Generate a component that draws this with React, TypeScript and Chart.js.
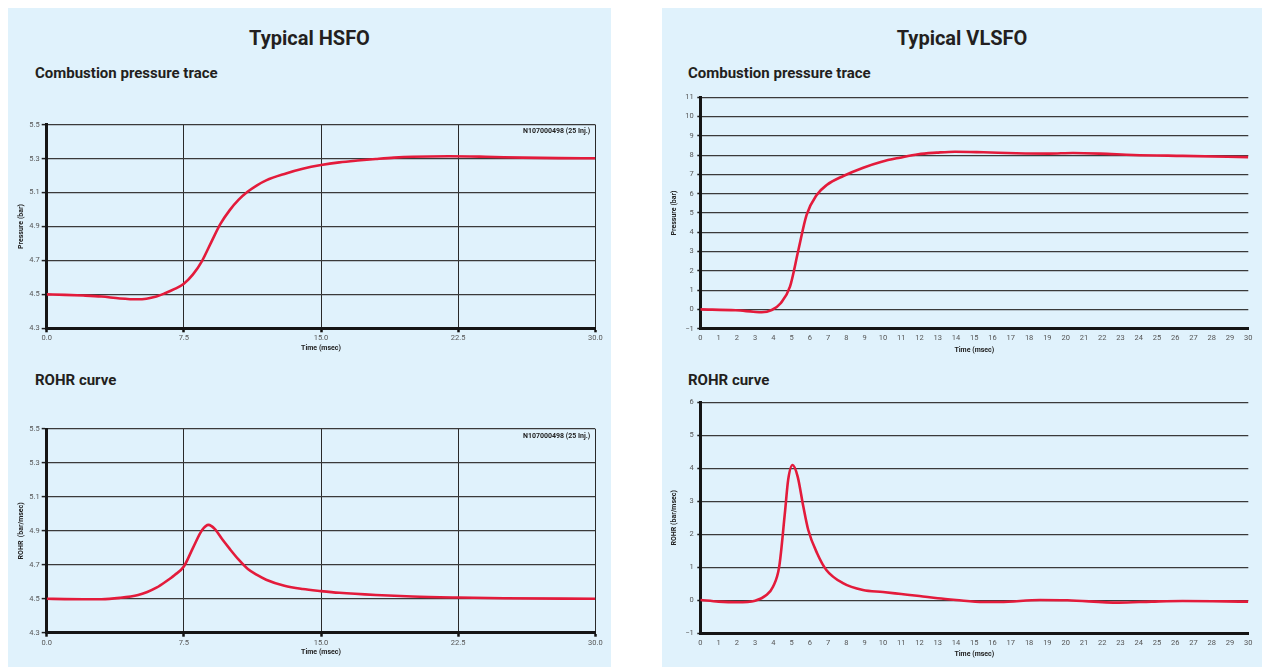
import React, { useEffect, useRef } from 'react';
import { Chart, registerables } from 'chart.js';

Chart.register(...registerables);

// ---------------- DATA ----------------
// Typical HSFO – combustion pressure trace (bar) vs time (msec)
const hsfoPressTime = [0, 1, 2, 3, 4, 5, 6, 6.5, 7, 7.5, 8, 8.5, 9, 9.5, 10, 10.5, 11, 11.5, 12, 13, 14, 15, 16, 17, 18, 19, 20, 22, 24, 26, 28, 30];
const hsfoPressVals = [4.5, 4.497, 4.493, 4.487, 4.476, 4.471, 4.488, 4.508, 4.532, 4.563, 4.618, 4.698, 4.808, 4.915, 4.995, 5.058, 5.106, 5.143, 5.172, 5.21, 5.24, 5.262, 5.278, 5.289, 5.298, 5.306, 5.311, 5.314, 5.311, 5.306, 5.303, 5.302];

// Typical HSFO – ROHR curve (bar/msec)
const hsfoRohrTime = [0, 1, 2, 3, 4, 5, 5.5, 6, 6.5, 7, 7.5, 8, 8.5, 8.85, 9.2, 9.6, 10, 10.5, 11, 11.5, 12, 13, 14, 15, 16, 18, 20, 22.5, 25, 30];
const hsfoRohrVals = [4.5, 4.498, 4.497, 4.497, 4.505, 4.522, 4.54, 4.565, 4.6, 4.64, 4.69, 4.8, 4.905, 4.935, 4.91, 4.85, 4.795, 4.73, 4.675, 4.64, 4.612, 4.576, 4.557, 4.545, 4.535, 4.522, 4.513, 4.507, 4.503, 4.5];

// Typical VLSFO – combustion pressure trace (bar)
const vlsfoPressTime = [0, 1.94, 2.9, 3.36, 3.91, 4.4, 4.91, 5.37, 5.82, 6.37, 6.92, 7.83, 8.92, 9.93, 10.93, 11.93, 12.94, 13.94, 15.5, 17.3, 19.1, 20.4, 21.9, 23.7, 26.4, 30];
const vlsfoPressVals = [0, -0.045, -0.12, -0.15, -0.03, 0.32, 1.18, 3.08, 4.9, 5.93, 6.45, 6.92, 7.35, 7.66, 7.87, 8.05, 8.13, 8.18, 8.15, 8.1, 8.08, 8.11, 8.08, 8.01, 7.96, 7.9];

// Typical VLSFO – ROHR curve (bar/msec)
const vlsfoRohrTime = [0, 1, 2, 3, 3.62, 3.98, 4.32, 4.63, 4.81, 5.05, 5.33, 5.64, 5.91, 6.4, 6.9, 7.81, 8.9, 10, 11, 12, 13, 14, 15.5, 16.4, 18.6, 20.1, 22.9, 24.7, 26.4, 30];
const vlsfoRohrVals = [0.01, -0.04, -0.06, -0.01, 0.16, 0.41, 1.02, 2.64, 3.65, 4.1, 3.75, 2.84, 2.13, 1.42, 0.92, 0.52, 0.31, 0.25, 0.19, 0.13, 0.06, 0.01, -0.05, -0.05, 0.01, 0, -0.07, -0.04, -0.02, -0.04];

// Tick values
const hsfoXTicks = [0, 7.5, 15, 22.5, 30];
const hsfoYTicks = [4.3, 4.5, 4.7, 4.9, 5.1, 5.3, 5.5];
const vlsfoXTicks = [0, 1, 2, 3, 4, 5, 6, 7, 8, 9, 10, 11, 12, 13, 14, 15, 16, 17, 18, 19, 20, 21, 22, 23, 24, 25, 26, 27, 28, 29, 30];
const vlsfoPressYTicks = [-1, 0, 1, 2, 3, 4, 5, 6, 7, 8, 9, 10, 11];
const vlsfoRohrYTicks = [-1, 0, 1, 2, 3, 4, 5, 6];

// Text
const TITLE_LEFT = 'Typical HSFO';
const TITLE_RIGHT = 'Typical VLSFO';
const SUB_PRESSURE = 'Combustion pressure trace';
const SUB_ROHR = 'ROHR curve';
const X_TITLE = 'Time (msec)';
const Y_PRESSURE = 'Pressure (bar)';
const Y_ROHR_LEFT = 'ROHR  (bar/msec)';
const Y_ROHR_RIGHT = 'ROHR (bar/msec)';
const ANNOTATION = 'N107000498 (25 Inj.)';

// ---------------- STYLE ----------------
const RED = '#e31b3b';
const PANEL_BG = '#e0f2fc';
const TEXT_DARK = '#231f20';
const FONT = 'Roboto, "Noto Sans", sans-serif';

type Spec = {
  left: number; top: number; w: number; h: number;
  xs: number[]; ys: number[];
  xTicks: number[]; yTicks: number[];
  xDecimals: number; yDecimals: number;
  yTitle: string;
  yAxisW: number; xAxisH: number; padTop: number; padRight: number;
  xTitlePad: number; yTitlePad: number;
  vGrid: boolean; xTickLen: number; xTickPad: number; yTickLen: number; yTickPad: number;
  annotation?: string;
};

const fmt = (v: number, d: number) => {
  const s = Math.abs(v).toFixed(d);
  return v < 0 ? '\u2212' + s : s;
};

function buildConfig(s: Spec): any {
  const plugins: any[] = [];
  if (s.annotation) {
    const text = s.annotation;
    plugins.push({
      id: 'anno',
      afterDraw(chart: any) {
        const { ctx, chartArea } = chart;
        ctx.save();
        ctx.font = `bold 7px ${FONT}`;
        ctx.fillStyle = '#222';
        ctx.textAlign = 'right';
        ctx.textBaseline = 'middle';
        ctx.fillText(text, chartArea.right - 5, chartArea.top + 7);
        ctx.restore();
      },
    });
  }
  return {
    type: 'line',
    data: {
      datasets: [
        {
          data: s.xs.map((x, i) => ({ x, y: s.ys[i] })),
          borderColor: RED,
          borderWidth: 2.6,
          pointRadius: 0,
          fill: false,
          cubicInterpolationMode: 'monotone',
        },
      ],
    },
    plugins,
    options: {
      animation: false,
      responsive: false,
      maintainAspectRatio: false,
      layout: { padding: { top: s.padTop, right: s.padRight, left: 0, bottom: 0 } },
      plugins: { legend: { display: false }, tooltip: { enabled: false }, title: { display: false } },
      scales: {
        x: {
          type: 'linear',
          min: s.xTicks[0],
          max: s.xTicks[s.xTicks.length - 1],
          afterBuildTicks: (sc: any) => { sc.ticks = s.xTicks.map((v) => ({ value: v })); },
          afterFit: (sc: any) => { sc.height = s.xAxisH; },
          grid: {
            display: s.vGrid,
            color: '#2a2a2a',
            lineWidth: 1,
            drawTicks: true,
            tickLength: s.xTickLen,
            tickColor: '#111',
            tickWidth: 2.5,
          },
          border: { display: true, color: '#151515', width: 3 },
          ticks: {
            autoSkip: false,
            maxRotation: 0,
            padding: s.xTickPad,
            color: '#555',
            font: { family: FONT, size: 7.5 },
            callback: (v: any) => fmt(Number(v), s.xDecimals),
          },
          title: {
            display: true,
            text: X_TITLE,
            color: '#222',
            font: { family: FONT, size: 7, weight: 'bold' },
            padding: { top: 0, bottom: s.xTitlePad },
          },
        },
        y: {
          type: 'linear',
          min: s.yTicks[0],
          max: s.yTicks[s.yTicks.length - 1],
          afterBuildTicks: (sc: any) => { sc.ticks = s.yTicks.map((v) => ({ value: v })); },
          afterFit: (sc: any) => { sc.width = s.yAxisW; },
          grid: {
            display: true,
            color: '#3a3a3a',
            lineWidth: 1.2,
            drawTicks: true,
            tickLength: s.yTickLen,
            tickColor: '#222',
            tickWidth: 1.5,
          },
          border: { display: true, color: '#151515', width: 3 },
          ticks: {
            autoSkip: false,
            padding: s.yTickPad,
            color: '#555',
            font: { family: FONT, size: 7.5 },
            callback: (v: any) => fmt(Number(v), s.yDecimals),
          },
          title: {
            display: true,
            text: s.yTitle,
            color: '#222',
            font: { family: FONT, size: 7, weight: 'bold' },
            padding: { top: s.yTitlePad, bottom: 0 },
          },
        },
      },
    },
  };
}

function LineChart({ spec }: { spec: Spec }) {
  const ref = useRef<HTMLCanvasElement>(null);
  useEffect(() => {
    if (!ref.current) return;
    const chart = new Chart(ref.current, buildConfig(spec));
    return () => chart.destroy();
  }, [spec]);
  return (
    <canvas
      ref={ref}
      width={spec.w}
      height={spec.h}
      style={{ position: 'absolute', left: spec.left, top: spec.top, width: spec.w, height: spec.h }}
    />
  );
}

const specs: Spec[] = [
  {
    left: 12, top: 110, w: 593, h: 246,
    xs: hsfoPressTime, ys: hsfoPressVals, xTicks: hsfoXTicks, yTicks: hsfoYTicks,
    xDecimals: 1, yDecimals: 1, yTitle: Y_PRESSURE,
    yAxisW: 34.7, xAxisH: 27.7, padTop: 14.7, padRight: 9.7,
    xTitlePad: 3.8, yTitlePad: 5.3, vGrid: true,
    xTickLen: 4, xTickPad: 1.3, yTickLen: 5, yTickPad: 2,
    annotation: ANNOTATION,
  },
  {
    left: 12, top: 414, w: 593, h: 246,
    xs: hsfoRohrTime, ys: hsfoRohrVals, xTicks: hsfoXTicks, yTicks: hsfoYTicks,
    xDecimals: 1, yDecimals: 1, yTitle: Y_ROHR_LEFT,
    yAxisW: 34.7, xAxisH: 27.3, padTop: 15, padRight: 9.7,
    xTitlePad: 3.8, yTitlePad: 5.3, vGrid: true,
    xTickLen: 4, xTickPad: 1.6, yTickLen: 5, yTickPad: 2,
    annotation: ANNOTATION,
  },
  {
    left: 664, top: 86, w: 594, h: 270,
    xs: vlsfoPressTime, ys: vlsfoPressVals, xTicks: vlsfoXTicks, yTicks: vlsfoPressYTicks,
    xDecimals: 0, yDecimals: 0, yTitle: Y_PRESSURE,
    yAxisW: 36.3, xAxisH: 27.3, padTop: 11.3, padRight: 9.7,
    xTitlePad: 1.8, yTitlePad: 6.3, vGrid: false,
    xTickLen: 4, xTickPad: 1.2, yTickLen: 3, yTickPad: 3.5,
  },
  {
    left: 664, top: 390, w: 594, h: 270,
    xs: vlsfoRohrTime, ys: vlsfoRohrVals, xTicks: vlsfoXTicks, yTicks: vlsfoRohrYTicks,
    xDecimals: 0, yDecimals: 0, yTitle: Y_ROHR_RIGHT,
    yAxisW: 36.3, xAxisH: 26.7, padTop: 12.3, padRight: 9.7,
    xTitlePad: 1.5, yTitlePad: 6.3, vGrid: false,
    xTickLen: 4, xTickPad: 1.6, yTickLen: 3, yTickPad: 3.5,
  },
];

const abs = (left: number, top: number, extra: React.CSSProperties = {}): React.CSSProperties => ({
  position: 'absolute', left, top, margin: 0, ...extra,
});

const titleStyle: React.CSSProperties = {
  fontFamily: FONT, fontWeight: 700, fontSize: 20, lineHeight: '24px', color: TEXT_DARK, textAlign: 'center',
};
const subStyle: React.CSSProperties = {
  fontFamily: FONT, fontWeight: 700, fontSize: 15, lineHeight: '18px', color: TEXT_DARK, whiteSpace: 'nowrap',
};

export default function App() {
  return (
    <div>
      <div style={abs(8, 8, { width: 603, height: 659, background: PANEL_BG })} />
      <div style={abs(662, 8, { width: 600, height: 659, background: PANEL_BG })} />

      <div style={abs(8, 26, { width: 603, ...titleStyle })}>{TITLE_LEFT}</div>
      <div style={abs(662, 26, { width: 600, ...titleStyle })}>{TITLE_RIGHT}</div>

      <div style={abs(35, 64, subStyle)}>{SUB_PRESSURE}</div>
      <div style={abs(35, 371, subStyle)}>{SUB_ROHR}</div>
      <div style={abs(688, 64, subStyle)}>{SUB_PRESSURE}</div>
      <div style={abs(688, 371, subStyle)}>{SUB_ROHR}</div>

      {specs.map((s, i) => (
        <LineChart key={i} spec={s} />
      ))}
    </div>
  );
}
